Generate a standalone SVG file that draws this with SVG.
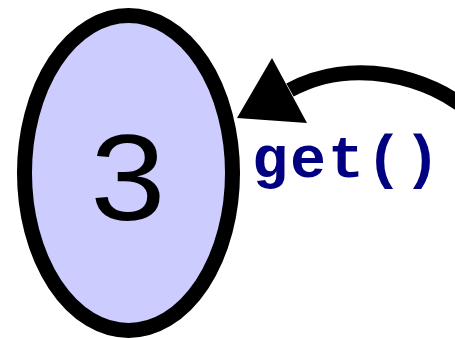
<svg xmlns="http://www.w3.org/2000/svg" width="455" height="339" viewBox="0 0 455 339">
<style>
.node{fill:#ccccff;stroke:#000;stroke-width:15}
.nlabel{font-family:"Liberation Sans",Arial,sans-serif;font-size:123px;fill:#000;text-anchor:middle}
.edge{fill:none;stroke:#000;stroke-width:15}
.head{fill:#000}
.elabel{font-family:"Liberation Mono","Courier New",monospace;font-weight:bold;font-size:60px;letter-spacing:2px;fill:#000080}
</style>
<rect width="455" height="339" fill="#fff"/>
<g id="node3">
<ellipse class="node" cx="128.5" cy="173" rx="104" ry="157.5"/>
<text class="nlabel" x="128" y="220" transform="translate(128 0) scale(1.1 1) translate(-128 0)">3</text>
</g>
<g id="connectors">
<path class="edge" d="M 472 114 C 430 75, 350 57, 290 90"/>
<polygon class="head" points="237,118 272,58 307,123"/>
<text class="elabel" x="252" y="177">get()</text>
</g>
</svg>
